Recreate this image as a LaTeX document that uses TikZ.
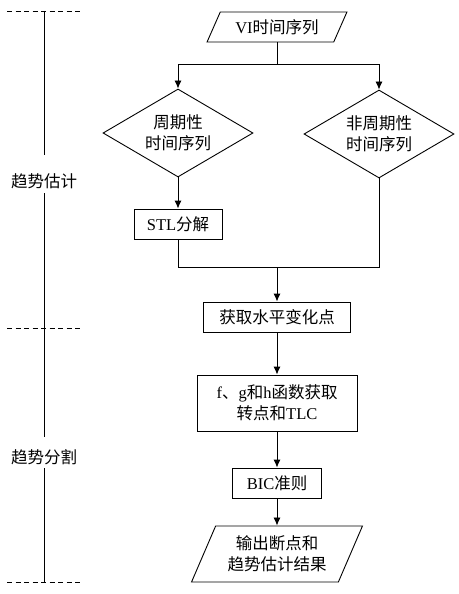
\documentclass[tikz,border=0pt]{standalone}
\usepackage{fontspec}
\setmainfont{Liberation Serif}
\newfontfamily\cjk{Noto Sans CJK SC}
\newcommand{\zh}[1]{{\cjk #1}}
\usetikzlibrary{shapes.geometric,arrows.meta}
\tikzset{
  box/.style={draw, rectangle, minimum height=30pt, inner sep=3pt, align=center},
  cond/.style={draw, diamond, aspect=1.7, inner sep=0pt, minimum width=150pt, minimum height=88pt, align=center},
  io/.style={draw, trapezium, trapezium left angle=64, trapezium right angle=116, trapezium stretches=true, inner sep=3pt, align=center},
  rail/.style={dash pattern=on 5pt off 3.5pt}
}

\begin{document}
\begin{tikzpicture}[x=1pt,y=-1pt,font=\fontsize{16.5}{21}\selectfont,line width=0.9pt,>={Latex[length=8pt,width=7pt]}]
\useasboundingbox (0,0) rectangle (458,594);

% stages on the left
\draw [rail] (7,11) -- (82,11);
\draw [rail] (7,328) -- (82,328);
\draw [rail] (7,582) -- (82,582);
\node (est) at (44,181) {\zh{趋势估计}};
\node (seg) at (44,457) {\zh{趋势分割}};
\draw (44,11) -- (44,155);
\draw (44,193) -- (44,437);
\draw (44,468) -- (44,582);

% flow
\node [io, minimum width=140pt, minimum height=30pt] (vi) at (277,27) {VI\zh{时间序列}};
\node [cond] (pd) at (178,133) {\zh{周期性}\\\zh{时间序列}};
\node [cond] (np) at (379,134) {\zh{非周期性}\\\zh{时间序列}};
\node [box, minimum width=88pt] (stl) at (178,224) {STL\zh{分解}};
\node [box, minimum width=147pt] (lvl) at (277,317) {\zh{获取水平变化点}};
\node [box, minimum width=160pt, minimum height=56pt] (fgh) at (277,403) {f\zh{、}g\zh{和}h\zh{函数获取}\\\zh{转点和}TLC};
\node [box, minimum width=89pt] (bic) at (277,483) {BIC\zh{准则}};
\node [io, minimum width=171pt, minimum height=56pt] (out) at (277,554) {\zh{输出断点和}\\\zh{趋势估计结果}};

\coordinate (split) at (277,64);
\coordinate (merge) at (277,267);
\draw (vi) -- (split);
\draw [->] (split) -| (pd);
\draw [->] (split) -| (np);
\draw [->] (pd) -- (stl);
\draw (stl) |- (merge);
\draw (np) |- (merge);
\draw [->] (merge) -- (lvl);
\draw [->] (lvl) -- (fgh);
\draw [->] (fgh) -- (bic);
\draw [->] (bic) -- (out);
\end{tikzpicture}
\end{document}
